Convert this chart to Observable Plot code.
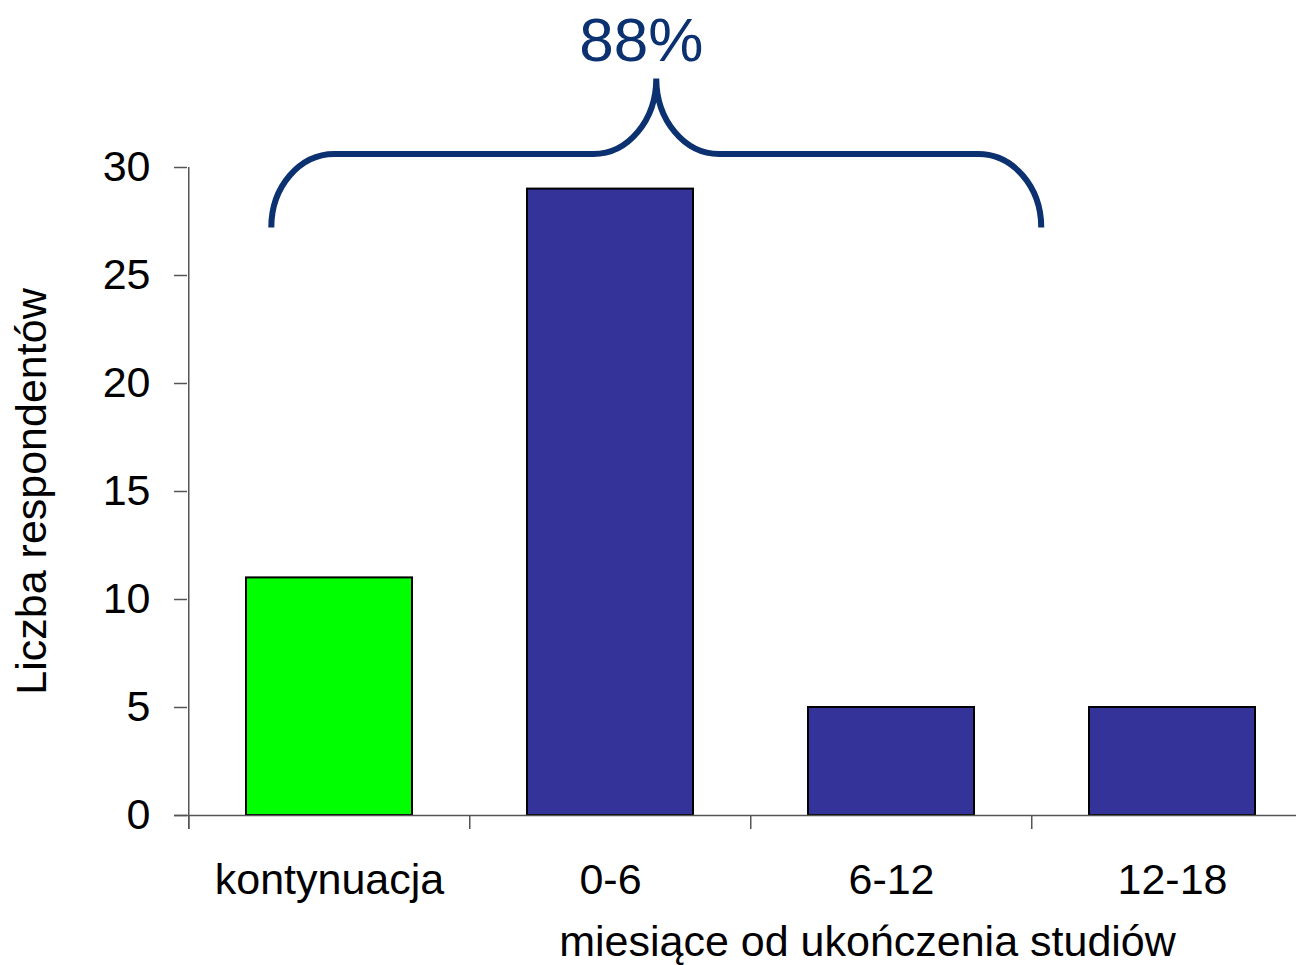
<!DOCTYPE html>
<html><head><meta charset="utf-8">
<script src="https://cdn.jsdelivr.net/npm/d3@7"></script>
<script src="https://cdn.jsdelivr.net/npm/@observablehq/plot@0.6"></script>
<style>body{margin:0;background:#fff} svg{display:block}</style>
</head><body><div id="chart"></div>
<script>
const categories = ["kontynuacja", "0-6", "6-12", "12-18"];
const counts = [11, 29, 5, 5];
const barColors = ["#00ff00", "#333399", "#333399", "#333399"];
const yTicks = [0, 5, 10, 15, 20, 25, 30];
const yTitle = "Liczba respondentów";
const xTitle = "miesiące od ukończenia studiów";
const braceLabel = "88%";
const braceSpan = [0.3, 3.04];        // category units
const braceEndValue = 27.2;
const braceLevel = 30.6;
const braceTipValue = 34.1;

const data = categories.map((c, i) => ({category: c, count: counts[i], color: barColors[i]}));
const W = 1296, H = 965;
const xRange = [187, 1313];
const step = (xRange[1] - xRange[0]) / categories.length;
const navy = "#0b3170";
const axisGray = "#555";
const FONT = "'Liberation Sans', Arial, sans-serif";
const FS = 43;

function brace(index, scales, values, dims, context) {
  const x = scales.x, y = scales.y;
  const s = x.step(), x0 = x.range()[0];
  const L = x0 + braceSpan[0] * s, R = x0 + braceSpan[1] * s, M = (L + R) / 2;
  const yE = y(braceEndValue), yB = y(braceLevel), yT = y(braceTipValue);
  const k = 0.552;
  const rx = 63, ry = yE - yB;
  const rx2 = 63, ry2 = yB - yT;
  const p = [
    `M${L},${yE}`,
    `C${L},${yE - k * ry} ${L + rx - k * rx},${yB} ${L + rx},${yB}`,
    `L${M - rx2},${yB}`,
    `C${M - rx2 + k * rx2},${yB} ${M},${yT + k * ry2} ${M},${yT}`,
    `C${M},${yT + k * ry2} ${M + rx2 - k * rx2},${yB} ${M + rx2},${yB}`,
    `L${R - rx},${yB}`,
    `C${R - rx + k * rx},${yB} ${R},${yE - k * ry} ${R},${yE}`
  ].join(" ");
  const g = d3.create("svg:g");
  g.append("path").attr("d", p).attr("fill", "none").attr("stroke", navy)
    .attr("stroke-width", 6).attr("stroke-linecap", "butt");
  g.append("text").attr("x", M - 15).attr("y", yT - 17).attr("text-anchor", "middle")
    .attr("fill", navy).attr("font-size", 62).attr("font-family", FONT).text(braceLabel);
  return g.node();
}

const chart = Plot.plot({
  width: W, height: H,
  marginLeft: 187, marginRight: 0, marginTop: 167, marginBottom: 150,
  style: {fontFamily: FONT, background: "white", color: "black", overflow: "visible"},
  x: {domain: categories, range: xRange, paddingInner: 0.41, paddingOuter: 0.205, align: 0.5},
  y: {domain: [0, 30]},
  color: {type: "identity"},
  marks: [
    Plot.barY(data, {x: "category", y: "count", fill: "color", stroke: "#000", strokeWidth: 2}),
    Plot.ruleY([0], {stroke: axisGray, strokeWidth: 1.5, insetLeft: -13}),
    Plot.ruleX([categories[0]], {x: d => d, dx: -step / 2, y1: 30, y2: 0, insetBottom: -14, stroke: axisGray, strokeWidth: 1.5}),
    Plot.ruleX(categories, {x: d => d, dx: -step / 2, y1: 0, y2: 0, insetBottom: -14, stroke: axisGray, strokeWidth: 1.5}),
    Plot.axisY({ticks: yTicks, tickSize: 13, tickPadding: 24, fontSize: FS, label: null, stroke: axisGray, strokeWidth: 1.5, tickFormat: d => String(d)}),
    Plot.axisX({tickSize: 0, tickPadding: 47.5, fontSize: FS, label: null}),
    Plot.text([xTitle], {text: d => d, frameAnchor: "bottom", dx: 125.5, dy: 140, lineAnchor: "bottom", fontSize: FS, fill: "black"}),
    Plot.text([yTitle], {text: d => d, frameAnchor: "left", rotate: -90, dx: -142, lineAnchor: "bottom", textAnchor: "middle", fontSize: FS, fill: "black"}),
    brace
  ]
});
document.getElementById("chart").appendChild(chart);
</script>
</body></html>
